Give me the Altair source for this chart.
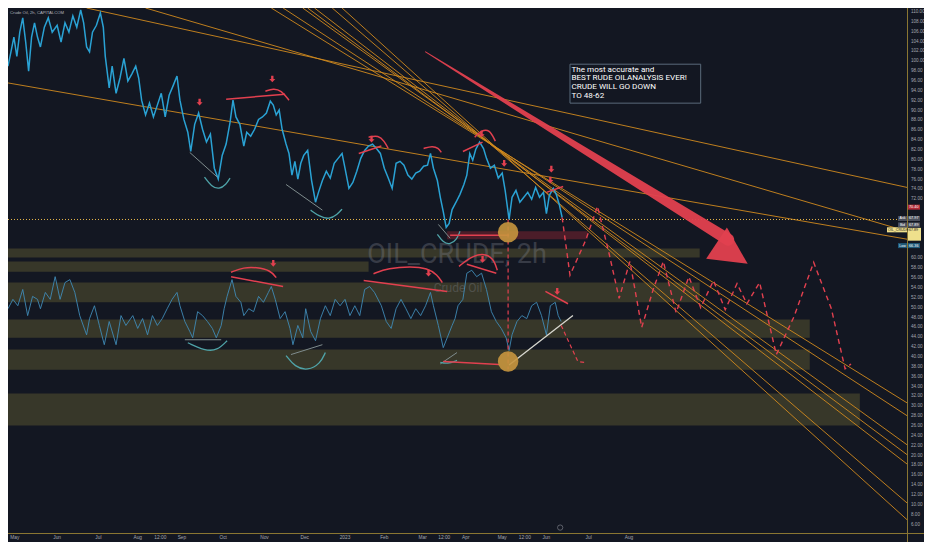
import altair as alt
import pandas as pd

# ---------------- data ----------------
PRICE_T = [0,3,6,9,12,15,18,21,24,27,30,33,37,41,45,50,54,58,62,66,70,74,77,80,83,86,90,94,97,99,
           103,106,110,114,118,122,126,130,133,136,140,144,148,152,156,160,164,168,172,175,
           179,183,186,190,194,198,202,206,210,214,218,222,226,229,232,236,240,243,247,251,
           255,259,263,267,270,273,276,279,283,286,289,292,295,298,301,305,309,313,316,320,
           324,328,332,336,340,343,347,351,355,359,363,367,371,375,379,383,387,391,395,399,
           403,407,411,415,419,423,427,430,433,437,440,443,446,449,452,456,460,464,467,470,
           473,476,480,484,487,491,495,499,503,506,510,513,517,521,525,529,533,537,541,545,
           548,551,555,558,561,564]
PRICE_P = [99.0,101.9,104.9,101.0,105.9,108.8,103.9,98.0,104.9,107.8,
           104.9,102.9,106.9,108.8,105.9,107.3,103.9,107.8,105.9,109.2,
           106.9,110.4,107.8,102.9,101.9,105.9,107.3,109.8,106.9,101.0,
           94.6,99.0,93.5,96.6,100.6,96.0,97.4,99.0,96.6,92.1,
           89.1,91.5,88.7,91.1,93.5,88.7,93.1,95.0,97.0,92.1,
           88.2,85.6,81.7,87.2,89.5,86.2,83.6,85.2,78.3,76.1,
           80.9,83.2,87.6,92.1,88.7,87.2,82.8,85.6,84.8,86.2,
           88.2,88.7,89.5,91.9,91.1,89.1,90.1,86.2,83.2,81.3,
           76.9,79.7,76.1,79.3,80.9,81.9,75.8,71.4,73.4,75.8,
           77.7,76.3,79.3,80.3,81.3,78.3,74.2,75.4,77.7,80.3,
           81.9,82.8,83.2,82.3,81.3,78.3,76.3,74.2,79.3,79.7,
           78.9,76.9,76.1,77.3,77.7,78.7,78.9,81.3,78.3,75.8,
           72.4,69.5,66.3,67.1,69.9,71.4,73.0,75.0,76.9,81.3,
           79.9,82.1,83.6,82.3,80.3,78.3,78.9,76.3,77.3,73.8,
           67.9,72.4,73.8,71.4,72.4,73.4,72.0,74.4,72.4,73.4,
           69.1,72.8,74.2,73.0,71.0,68.3]

OSC_T = [0,5,10,15,20,25,30,33,38,43,48,53,58,63,68,73,80,83,88,93,
         98,103,110,115,120,127,132,137,142,147,152,157,162,167,172,175,180,185,188,193,
         198,203,208,212,217,220,223,228,232,237,240,245,250,255,260,265,268,272,277,282,
         287,290,295,300,
         303,308,313,318,323,328,333,338,343,348,353,358,363,368,373,380,385,390,395,400,
         405,410,415,420,425,430,433,438,443,447,452,455,458,463,467,472,477,482,487,492,
         497,502,507,510,513,518,523,528,533,538,543,548,552,557,560,563]
OSC_P = [49.8,51.7,50.4,53.7,48.4,52.3,51.7,49.8,53.1,51.7,
         56.3,51.7,55.1,55.7,53.1,48.4,44.5,47.8,50.4,46.4,
         42.5,47.2,42.5,48.4,46.4,48.4,45.8,47.8,44.5,48.4,
         46.4,47.8,49.8,51.7,53.1,50.4,47.2,45.2,43.9,49.2,
         48.4,47.2,45.8,43.9,46.4,49.8,52.3,55.7,52.3,51.1,
         48.4,49.8,49.2,52.3,51.1,53.1,54.3,51.7,47.8,49.2,
         45.8,42.5,46.4,43.9,
         49.8,45.2,43.3,47.8,50.4,48.4,51.7,50.4,51.7,48.4,
         50.4,48.4,53.7,54.3,53.1,50.4,47.2,45.8,49.8,51.7,
         49.8,47.8,49.8,48.4,50.4,53.1,50.4,46.4,41.9,43.9,
         46.4,47.8,50.4,51.7,57.0,57.6,56.3,57.0,53.7,49.2,
         47.2,45.8,43.9,41.3,44.5,47.2,48.4,47.8,50.4,51.1,
         48.4,44.5,50.4,51.1,48.4,47.2]

# horizontal zones
ZONE_T0 = [0, 0, 0, 0, 0, 0]
ZONE_T1 = [704, 367, 704, 816, 816, 867]
ZONE_HI = [62.0, 59.4, 55.1, 47.6, 41.5, 32.6]
ZONE_LO = [60.2, 57.3, 51.1, 43.9, 37.4, 26.1]

# orange trend lines (start t, start price, end t, end price)
TREND_T0 = [0, 80, 140, 268, 280, 300, 305, 312, 330, 340]
TREND_P0 = [95.6, 110.8, 110.8, 110.8, 110.8, 110.8, 110.8, 110.8, 110.8, 110.8]
TREND_T1 = [915, 915, 915, 915, 915, 915, 915, 915, 915, 915]
TREND_P1 = [63.9, 74.4, 65.5, 30.7, 28.1, 22.2, 20.2, 18.3, 10.4, 7.0]

LAST_PRICE = 67.9

# red projection (dashed)
PROJ_T = [564,572,588,600,612,622,633,645,657,667,680,693,705,718,730,742,752,765,782,800,820,838,852,858]
PROJ_P = [68.3,56.6,63.7,70.6,60.8,51.9,59.4,46.0,53.9,59.4,49.0,56.3,50.0,55.5,49.6,54.9,50.8,55.1,40.5,48.2,59.2,49.8,37.6,38.6]

# red solid drawings: id, t, price
RED_ID = ["a1","a1","a1b","a1b","a1b","a1b","a2","a2","a2b","a2b","a2b","a2b",
          "a3","a3","a3","a3","a4","a4","a4b","a4b","a4b","a4b","a5","a5",
          "b1","b1","b1","b1","b1","b1l","b1l","b2","b2","b2","b2","b2","b2","b2l","b2l",
          "b3","b3","b3","b3","b3","b3l","b3l","b4","b4","b5","b5","r0","r0"]
RED_T = [222,282,262,270,278,286,357,380,367,377,383,387,
         423,432,438,441,463,483,475,482,490,496,548,565,
         227,240,253,267,273,227,280,372,387,410,427,437,442,362,447,
         459,473,487,495,498,467,497,547,570,443,500,450,510]
RED_P = [92.3,93.3,93.9,94.5,94.1,92.1,81.3,82.8,84.6,85.0,83.8,82.3,
         82.3,82.8,82.4,81.5,81.7,83.6,84.6,86.0,86.2,83.8,73.4,74.6,
         57.2,58.2,58.2,57.6,56.1,56.3,54.3,56.9,58.0,58.4,58.0,56.7,55.1,55.5,53.3,
         58.4,60.6,61.0,59.6,57.6,58.8,57.0,53.3,50.8,39.1,38.5,64.7,64.7]

# small down-arrows
ARROW_T = [195, 269, 370, 482, 505, 553, 552, 270, 428, 483, 559]
ARROW_P = [91.7, 96.4, 84.2, 85.2, 79.3, 78.1, 75.9, 59.0, 57.0, 59.8, 53.3]

# teal arcs and grey guide lines
TEAL_ID = ["t1"]*5 + ["t2"]*5 + ["t3"]*5 + ["t4"]*4 + ["t5"]*5 + ["t6"]*3
TEAL_T = [200,207,215,222,226, 308,317,327,335,340, 437,443,450,457,460,
          183,200,213,223, 283,292,305,318,323, 440,447,457]
TEAL_P = [76.5,74.6,74.0,75.0,76.3, 69.8,68.5,67.9,68.9,70.0, 64.9,63.2,62.8,63.9,65.5,
          42.9,41.3,41.3,43.3, 40.3,38.0,37.2,38.7,40.9, 38.9,38.6,39.3]
GREY_T0 = [185, 283, 438, 180, 288, 440]
GREY_P0 = [81.5, 75.0, 66.9, 43.5, 40.5, 38.6]
GREY_T1 = [213, 320, 450, 217, 320, 457]
GREY_P1 = [76.5, 69.8, 64.1, 43.5, 42.5, 40.9]

WHITE_T = [510, 575]
WHITE_P = [38.4, 48.4]

CIRCLE_T = [509, 509]
CIRCLE_P = [65.3, 39.1]

VDASH_T = [509, 509]
VDASH_P = [67.9, 37.5]
LOWDASH_T = [563, 587, 580]
LOWDASH_P = [46.4, 38.9, 39.1]

BIG_ARROW_T = [425, 733]
BIG_ARROW_P = [101.9, 63.8]
BIG_ARROW_W = [1, 12]
HEAD_T = [737]
HEAD_P = [61.0]

NOTE_LINES = ["The most accurate and", " BEST RUDE OILANALYSIS EVER!", "CRUDE WILL GO DOWN", "TO 48-62"]
NOTE_P = [98.3, 96.5, 94.7, 92.9]

MONTH_TICKS = [7, 50, 92, 132, 155, 177, 219, 261, 302, 343, 383, 422, 444, 466, 503, 526, 548, 591, 632]
MONTH_LABELS = ["May", "Jun", "Jul", "Aug", "12:00", "Sep", "Oct", "Nov", "Dec", "2023", "Feb", "Mar",
                "12:00", "Apr", "May", "12:00", "Jun", "Jul", "Aug"]
# price scale labels (62..70 are hidden behind the live price tags)
PRICE_TICKS = [6, 8, 10, 12, 14, 16, 18, 20, 22, 24, 26, 28, 30, 32, 34, 36, 38, 40, 42, 44, 46, 48,
               50, 52, 54, 56, 58, 60, 72, 74, 76, 78, 80, 82, 84, 86, 88, 90, 92, 94, 96, 98, 100,
               102, 104, 106, 108, 110]

# live price tags on the scale: level where the tag sits, text, colour
TAG_P = [70.4, 68.1, 66.8, 62.6]
TAG_TXT = ["70.40", "67.97", "67.89", "66.36"]
TAG_SIDE = ["", "Ask", "Bid", "Low"]
TAG_COL = ["#b22a36", "#4a4f5c", "#4a4f5c", "#1f5a7a"]
YBOX_P = [66.2, 63.6]
YBOX_TXT = "67.89"

# ---------------- styling ----------------
BG = "#131722"
ORANGE = "#d08a1e"
RED = "#e2404f"
TEAL = "#4fa3a8"
GOLD = "#c8963e"
AXIS_GOLD = "#8a7632"
LABEL = "#a3a6af"
# the page keeps an 8px body margin: 916 x 534 fits without scaling or scrollbars
W, H = 899, 525

xs = alt.Scale(domain=[0, 915], nice=False, zero=False)
ys = alt.Scale(domain=[4.3, 110.8], nice=False, zero=False)


def X(f="t"):
    return alt.X(f"{f}:Q", scale=xs, axis=None, title=None)


def Y(f="p"):
    return alt.Y(f"{f}:Q", scale=ys, axis=None, title=None)


zones = pd.DataFrame({"t": ZONE_T0, "t2": ZONE_T1, "p": ZONE_HI, "p2": ZONE_LO})
zone_layer = alt.Chart(zones).mark_rect(color="#9a8f3e", opacity=0.27).encode(
    x=X(), x2="t2", y=Y(), y2="p2")

maroon = pd.DataFrame({"t": [447], "t2": [590], "p": [65.5], "p2": [63.9]})
maroon_layer = alt.Chart(maroon).mark_rect(color="#7a2230", opacity=0.55).encode(
    x=X(), x2="t2", y=Y(), y2="p2")

trend = pd.DataFrame({"t": TREND_T0, "p": TREND_P0, "t2": TREND_T1, "p2": TREND_P1})
trend_layer = alt.Chart(trend).mark_rule(color=ORANGE, strokeWidth=1, opacity=0.9, clip=True).encode(
    x=X(), y=Y(), x2="t2", y2="p2")

last_layer = alt.Chart(pd.DataFrame({"p": [LAST_PRICE]})).mark_rule(
    color="#e8b84a", strokeDash=[1, 2], strokeWidth=1).encode(y=Y(), x=alt.value(0), x2=alt.value(W))

osc = pd.DataFrame({"t": OSC_T, "p": OSC_P})
osc_layer = alt.Chart(osc).mark_line(color="#3f8ab5", strokeWidth=1, opacity=0.9).encode(x=X(), y=Y())

price = pd.DataFrame({"t": PRICE_T, "p": PRICE_P})
price_layer = alt.Chart(price).mark_line(color="#2aa2d4", strokeWidth=1.5).encode(x=X(), y=Y())

proj = pd.DataFrame({"t": PROJ_T, "p": PROJ_P})
proj_layer = alt.Chart(proj).mark_line(color=RED, strokeDash=[5, 4], strokeWidth=1.4, clip=True).encode(
    x=X(), y=Y())

vdash = pd.DataFrame({"t": VDASH_T, "p": VDASH_P})
vdash_layer = alt.Chart(vdash).mark_line(color=RED, strokeDash=[4, 3], strokeWidth=1.2).encode(x=X(), y=Y())
lowdash = pd.DataFrame({"t": LOWDASH_T, "p": LOWDASH_P})
lowdash_layer = alt.Chart(lowdash).mark_line(color=RED, strokeDash=[4, 3], strokeWidth=1.2).encode(x=X(), y=Y())

red = pd.DataFrame({"g": RED_ID, "t": RED_T, "p": RED_P})
red["i"] = range(len(red))
red_layer = alt.Chart(red).mark_line(color=RED, strokeWidth=1.5, interpolate="basis").encode(
    x=X(), y=Y(), detail="g:N", order="i:Q")

teal = pd.DataFrame({"g": TEAL_ID, "t": TEAL_T, "p": TEAL_P})
teal["i"] = range(len(teal))
teal_layer = alt.Chart(teal).mark_line(color=TEAL, strokeWidth=1.3, interpolate="basis").encode(
    x=X(), y=Y(), detail="g:N", order="i:Q")

grey = pd.DataFrame({"t": GREY_T0, "p": GREY_P0, "t2": GREY_T1, "p2": GREY_P1})
grey_layer = alt.Chart(grey).mark_rule(color="#7f8c8d", strokeWidth=1).encode(x=X(), y=Y(), x2="t2", y2="p2")

white = pd.DataFrame({"t": WHITE_T, "p": WHITE_P})
white_layer = alt.Chart(white).mark_line(color="#d8d8d0", strokeWidth=1.3).encode(x=X(), y=Y())

circles = pd.DataFrame({"t": CIRCLE_T, "p": CIRCLE_P})
circle_layer = alt.Chart(circles).mark_point(shape="circle", filled=True, size=420, color=GOLD,
                                             opacity=0.9).encode(x=X(), y=Y())

arrow_path = "M-0.35,-1 L0.35,-1 L0.35,0 L0.9,0 L0,1 L-0.9,0 L-0.35,0 Z"
arrows = pd.DataFrame({"t": ARROW_T, "p": ARROW_P})
arrow_layer = alt.Chart(arrows).mark_point(shape=arrow_path, filled=True, size=45, color=RED,
                                           opacity=1).encode(x=X(), y=Y())

big = pd.DataFrame({"t": BIG_ARROW_T, "p": BIG_ARROW_P, "w": BIG_ARROW_W})
big_layer = alt.Chart(big).mark_trail(color=RED, opacity=0.95).encode(
    x=X(), y=Y(), size=alt.Size("w:Q", scale=alt.Scale(domain=[0, 12], range=[0, 12]), legend=None))
head = pd.DataFrame({"t": HEAD_T, "p": HEAD_P})
head_layer = alt.Chart(head).mark_point(shape="M-1,-1 L1,0 L-1,1 Z", filled=True, size=1400, angle=33.7,
                                        color=RED, opacity=0.95).encode(x=X(), y=Y())

note_box = pd.DataFrame({"t": [572], "t2": [705], "p": [99.4], "p2": [91.5]})
note_box_layer = alt.Chart(note_box).mark_rect(fill=BG, stroke="#5a6b7b", strokeWidth=1).encode(
    x=X(), x2="t2", y=Y(), y2="p2")
note = pd.DataFrame({"t": [573.5] * 4, "p": NOTE_P, "txt": NOTE_LINES})
note_layer = alt.Chart(note).mark_text(align="left", baseline="middle", color="#ffffff", fontSize=8.1,
                                       font="Roboto").encode(
    x=X(), y=Y(), text="txt:N")

wm = pd.DataFrame({"t": [457, 458], "p": [60.6, 53.9], "txt": ["OIL_CRUDE, 2h", "Crude Oil"], "s": [27, 12]})
wm_layer = alt.Chart(wm).mark_text(align="center", baseline="middle", color="#8a8e9a", opacity=0.3,
                                   font="Roboto").encode(
    x=X(), y=Y(), text="txt:N", size=alt.Size("s:Q", scale=None, legend=None))

legend_txt = alt.Chart(pd.DataFrame({"txt": ["Crude Oil, 2h, CAPITALCOM"]})).mark_text(
    align="left", baseline="middle", color="#b2b5be", fontSize=4.2).encode(
    x=alt.value(2), y=alt.value(5), text="txt:N")

icon = pd.DataFrame({"t": [562], "p": [5.4]})
icon_layer = alt.Chart(icon).mark_point(shape="circle", size=28, color="#9598a1", strokeWidth=0.8).encode(
    x=X(), y=Y())

# ---- price scale (right) and time scale (bottom), drawn from the tick lists ----
ytick_df = pd.DataFrame({"p": PRICE_TICKS, "txt": ["%.2f" % v for v in PRICE_TICKS]})
ytick_layer = alt.Chart(ytick_df).mark_text(align="left", baseline="middle", color=LABEL, fontSize=4.6).encode(
    y=Y(), x=alt.value(W + 4), text="txt:N")
xtick_df = pd.DataFrame({"t": MONTH_TICKS, "txt": MONTH_LABELS})
xtick_layer = alt.Chart(xtick_df).mark_text(align="center", baseline="middle", color=LABEL, fontSize=4.8).encode(
    x=X(), y=alt.value(H + 4.5), text="txt:N")
ydomain = alt.Chart(pd.DataFrame({"k": [0]})).mark_rule(color=AXIS_GOLD, strokeWidth=1).encode(
    x=alt.value(W + 0.5), y=alt.value(0), y2=alt.value(H + 9))
xdomain = alt.Chart(pd.DataFrame({"k": [0]})).mark_rule(color=AXIS_GOLD, strokeWidth=1).encode(
    y=alt.value(H + 0.5), x=alt.value(0), x2=alt.value(W + 17))

# live price tags
tag_df = pd.DataFrame({"p": TAG_P, "txt": TAG_TXT, "c": TAG_COL})
tag_bg = alt.Chart(tag_df).mark_rect(height=5).encode(
    y=Y(), x=alt.value(W + 1), x2=alt.value(W + 13), color=alt.Color("c:N", scale=None))
tag_txt = alt.Chart(tag_df).mark_text(align="left", baseline="middle", color="#ffffff", fontSize=3.8).encode(
    y=Y(), x=alt.value(W + 2), text="txt:N")
side_df = pd.DataFrame({"p": TAG_P[1:], "txt": TAG_SIDE[1:], "c": TAG_COL[1:]})
side_bg = alt.Chart(side_df).mark_rect(height=5).encode(
    y=Y(), x=alt.value(W - 9), x2=alt.value(W), color=alt.Color("c:N", scale=None))
side_txt = alt.Chart(side_df).mark_text(align="center", baseline="middle", color="#ffffff", fontSize=3.6).encode(
    y=Y(), x=alt.value(W - 4.5), text="txt:N")
ybox = pd.DataFrame({"p": [YBOX_P[0]], "p2": [YBOX_P[1]], "pm": [(YBOX_P[0] + YBOX_P[1]) / 2 + 0.9],
                     "txt": [YBOX_TXT], "lab": ["OIL_CRUDE"]})
ybox_bg = alt.Chart(ybox).mark_rect(color="#efe08c").encode(
    y=Y(), y2="p2", x=alt.value(W + 1), x2=alt.value(W + 14))
ybox_txt = alt.Chart(ybox).mark_text(align="left", baseline="middle", color="#1a1a1a", fontSize=3.6).encode(
    y=Y("pm"), x=alt.value(W + 2), text="txt:N")
ytag_bg = alt.Chart(ybox).mark_rect(color="#efe08c", height=5).encode(
    y=Y("pm"), x=alt.value(W - 20), x2=alt.value(W))
ytag_txt = alt.Chart(ybox).mark_text(align="left", baseline="middle", color="#1a1a1a", fontSize=3.6).encode(
    y=Y("pm"), x=alt.value(W - 19), text="lab:N")

chart = alt.layer(
    zone_layer, maroon_layer, wm_layer, trend_layer, last_layer, osc_layer, price_layer,
    grey_layer, teal_layer, red_layer, white_layer, vdash_layer, lowdash_layer, proj_layer,
    circle_layer, arrow_layer, big_layer, head_layer, note_box_layer, note_layer, legend_txt, icon_layer,
    ydomain, xdomain, ytick_layer, xtick_layer,
    ybox_bg, ybox_txt, ytag_bg, ytag_txt, tag_bg, tag_txt, side_bg, side_txt,
).properties(
    width=W, height=H, background=BG,
    padding={"left": 0, "top": 0, "right": 17, "bottom": 9},
    autosize=alt.AutoSizeParams(type="none"),
).configure_view(strokeWidth=0)

chart.save("out.html", embed_options={"renderer": "svg", "actions": False})
